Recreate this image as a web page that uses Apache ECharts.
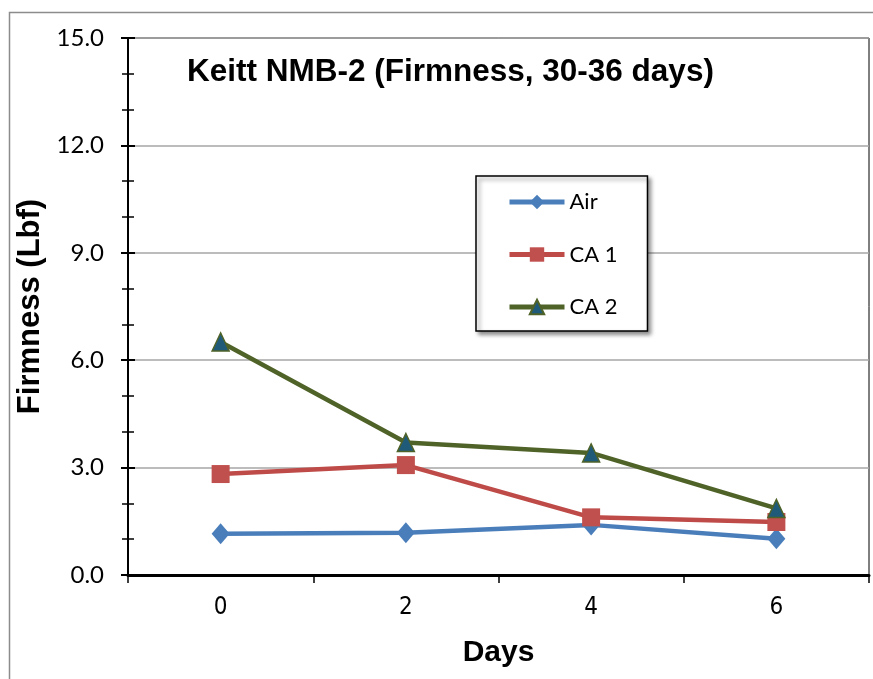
<!DOCTYPE html>
<html><head><meta charset="utf-8">
<script src="https://cdn.jsdelivr.net/npm/echarts@6/dist/echarts.min.js"></script>
<style>html,body{margin:0;padding:0;background:#fff}#c{width:873px;height:679px}</style>
</head><body><div id="c"></div>
<script>
const days = ['0', '2', '4', '6'];
const air = [1.15, 1.18, 1.40, 1.01];
const ca1 = [2.82, 3.07, 1.61, 1.48];
const ca2 = [6.51, 3.70, 3.41, 1.86];
const seriesNames = ['Air', 'CA 1', 'CA 2'];
const yMin = 0, yMax = 15, yStep = 3;

const chart = echarts.init(document.getElementById('c'));
const labelFont = 'Lato, "Open Sans", sans-serif';
const narrowFont = '"Liberation Sans Narrow", "DejaVu Sans Condensed", Lato, sans-serif';
const boldFont = '"Liberation Sans", Arial, sans-serif';
chart.setOption({
  animation: false,
  graphic: [
    { type: 'rect', shape: { x: 9.5, y: 12.5, width: 900, height: 700 },
      style: { fill: 'none', stroke: '#8c8c8c', lineWidth: 1.5 }, z: -10 },
    { type: 'text', left: 187, top: 56,
      style: { text: 'Keitt NMB-2 (Firmness, 30-36 days)', fill: '#000',
        font: 'bold 31.5px "Liberation Sans", Arial, sans-serif' } }
  ],
  grid: { left: 128, right: 4, top: 38, bottom: 104, show: true,
    borderColor: '#000', borderWidth: 1, backgroundColor: 'transparent' },
  legend: {
    orient: 'vertical', left: 476, top: 176,
    data: seriesNames,
    itemWidth: 55, itemHeight: 18, itemGap: 30.5,
    padding: [15, 30, 13, 31],
    backgroundColor: '#fff', borderColor: '#000', borderWidth: 1.5,
    shadowColor: 'rgba(0,0,0,0.45)', shadowBlur: 4, shadowOffsetX: 3, shadowOffsetY: 3,
    lineStyle: { width: 5 },
    textStyle: { fontFamily: labelFont, fontSize: 22, color: '#000' }
  },
  xAxis: {
    type: 'category', data: days, boundaryGap: true,
    name: 'Days', nameLocation: 'middle', nameGap: 63,
    nameTextStyle: { fontFamily: boldFont, fontWeight: 'bold', fontSize: 30, color: '#000' },
    axisLine: { lineStyle: { color: '#000', width: 3 } },
    axisTick: { show: true, length: 8, lineStyle: { color: '#000', width: 1.5 } },
    axisLabel: { fontFamily: narrowFont, fontSize: 24, color: '#000', margin: 21 },
    splitLine: { show: false }
  },
  yAxis: [{
    type: 'value', min: yMin, max: yMax, interval: yStep, position: 'left',
    name: 'Firmness (Lbf)', nameLocation: 'middle', nameGap: 77, nameRotate: 90,
    nameTextStyle: { fontFamily: boldFont, fontWeight: 'bold', fontSize: 31, color: '#000' },
    axisLine: { show: true, lineStyle: { color: '#000', width: 2 } },
    axisTick: { show: true, length: 7, lineStyle: { color: '#000', width: 2 } },
    minorTick: { show: true, splitNumber: 3, length: 6, lineStyle: { color: '#000', width: 1.5 } },
    axisLabel: { fontFamily: labelFont, fontSize: 24, color: '#000', margin: 24,
      formatter: v => v.toFixed(1) },
    splitLine: { show: true, lineStyle: { color: '#a6a6a6', width: 1.5 } }
  }, {
    type: 'value', min: yMin, max: yMax, interval: yStep, position: 'left', offset: 0,
    axisLine: { show: false },
    axisTick: { show: true, inside: true, length: 7, lineStyle: { color: '#000', width: 2 } },
    minorTick: { show: true, splitNumber: 3, length: 6, lineStyle: { color: '#000', width: 1.5 } },
    axisLabel: { show: false },
    splitLine: { show: false }
  }],
  series: [
    { name: 'Air', type: 'line', data: air, symbol: 'diamond', symbolSize: [18, 21],
      lineStyle: { color: '#4a7ebb', width: 4.5 }, itemStyle: { color: '#4a7ebb' }, z: 3 },
    { name: 'CA 1', type: 'line', data: ca1, symbol: 'rect', symbolSize: [18, 18],
      lineStyle: { color: '#be4b48', width: 4.5 }, itemStyle: { color: '#c0504d' }, z: 4 },
    { name: 'CA 2', type: 'line', data: ca2, symbol: 'triangle', symbolSize: [17, 18],
      lineStyle: { color: '#4f6228', width: 4.5 },
      itemStyle: { color: '#1f5b78', borderColor: '#4f6228', borderWidth: 1.5 }, z: 5 }
  ]
});
</script></body></html>
